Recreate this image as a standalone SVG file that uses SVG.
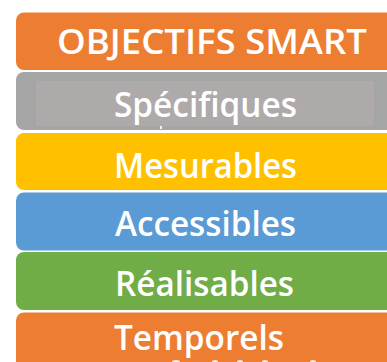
<svg xmlns="http://www.w3.org/2000/svg" width="387" height="362" viewBox="0 0 387 362">
<style>
.t{font-family:"Open Sans","Noto Sans","Liberation Sans",sans-serif;font-weight:600;font-size:35px;fill:#fff}
.m{fill:#fff;opacity:.85}
</style>
<rect width="387" height="362" fill="#fff"/>
<g id="title"><rect x="16" y="12.500" width="400" height="57.500" rx="8" fill="#ed7d31"/><text class="t" x="57" y="53.500" textLength="310" lengthAdjust="spacingAndGlyphs">OBJECTIFS SMART</text></g>
<g id="specifiques"><rect x="16" y="72" width="400" height="58" rx="8" fill="#a5a5a5"/><rect x="36" y="81" width="338" height="45" fill="#aeaaaa"/><text class="t" x="114" y="117" textLength="183" lengthAdjust="spacingAndGlyphs">Spécifiques</text><rect class="m" x="160" y="126" width="2" height="3"/></g>
<g id="mesurables"><rect x="16" y="133" width="400" height="57" rx="8" fill="#ffc000"/><text class="t" x="114" y="178" textLength="183" lengthAdjust="spacingAndGlyphs">Mesurables</text></g>
<g id="accessibles"><rect x="16" y="192.500" width="400" height="58" rx="8" fill="#5b9bd5"/><text class="t" x="115" y="235.500" textLength="181" lengthAdjust="spacingAndGlyphs">Accessibles</text></g>
<g id="realisables"><rect x="16" y="252" width="400" height="58" rx="8" fill="#70ad47"/><text class="t" x="115" y="295.500" textLength="179" lengthAdjust="spacingAndGlyphs">Réalisables</text></g>
<g id="temporels"><rect x="16" y="312.500" width="400" height="70" rx="8" fill="#ed7d31"/><text class="t" x="114" y="350" textLength="170" lengthAdjust="spacingAndGlyphs">Temporels</text><ellipse class="m" cx="176" cy="362" rx="4" ry="2"/><ellipse class="m" cx="215" cy="362" rx="3" ry="2"/><ellipse class="m" cx="240" cy="362" rx="3" ry="2"/><ellipse class="m" cx="265" cy="362" rx="3" ry="2"/><ellipse class="m" cx="313" cy="362" rx="3" ry="2"/></g>
</svg>
